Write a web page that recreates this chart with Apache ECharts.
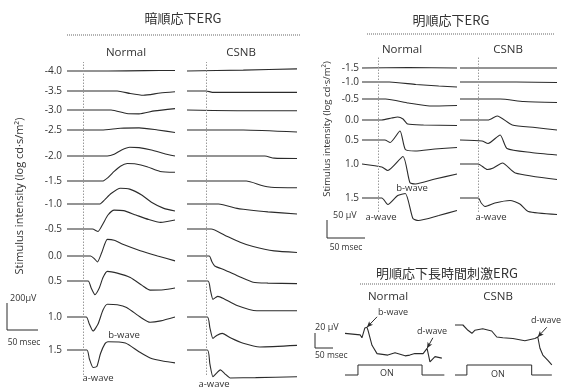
<!DOCTYPE html>
<html><head><meta charset="utf-8">
<script src="https://cdn.jsdelivr.net/npm/echarts@6/dist/echarts.min.js"></script>
<style>html,body{margin:0;padding:0;background:#fff}#c{width:562px;height:387px}</style>
</head><body><div id="c"></div>
<script>
// ================= DATA =================
// stimulus intensities (log cd·s/m²)
const darkIntensities = ['-4.0','-3.5','-3.0','-2.5','-2.0','-1.5','-1.0','-0.5','0.0','0.5','1.0','1.5'];
const lightIntensities = ['-1.5','-1.0','-0.5','0.0','0.5','1.0','1.5'];

// dark-adapted ERG, Normal: each trace = [time ms from flash, µV]
const darkNormal = [
  [[-26,0],[40,0],[100,2],[148,3]],
  [[-26,0],[55,0],[76,-15],[97,-25],[124,-12],[148,-5]],
  [[-26,0],[45,0],[70,-20],[90,-22],[115,-5],[148,8]],
  [[-26,0],[30,0],[60,10],[90,12],[120,0],[148,-14]],
  [[-26,0],[39,0],[50,10],[62,35],[75,50],[90,48],[110,35],[130,15],[148,0]],
  [[-26,0],[31,0],[40,20],[50,55],[60,85],[71,100],[85,98],[103,82],[124,55],[148,50]],
  [[-26,0],[27,0],[35,25],[45,60],[60,90],[75,85],[95,50],[110,10],[130,-25],[148,-40]],
  [[-26,0],[15,0],[24,-14],[32,30],[40,80],[50,108],[65,105],[85,80],[105,55],[125,38],[148,52]],
  [[-26,0],[12,0],[18,-15],[23,-34],[30,20],[39,95],[50,90],[65,65],[92,30],[120,0],[148,-28]],
  [[-26,0],[8,0],[13,-40],[19,-78],[26,-40],[32,20],[39,55],[55,45],[76,20],[95,-25],[108,-52],[130,-50],[148,-40]],
  [[-26,0],[5,0],[10,-40],[16,-80],[24,-40],[32,40],[39,73],[55,70],[70,55],[92,0],[108,-30],[125,-22],[148,0]],
  [[-26,0],[6,0],[10,-50],[16,-100],[22,-95],[28,-20],[35,35],[40,47],[68,40],[90,-10],[108,-46],[130,-65],[148,-74]]
];
// dark-adapted ERG, CSNB
const darkCSNB = [
  [[-31,0],[60,5],[147,12]],
  [[-31,0],[0,0],[10,-8],[147,-8]],
  [[-31,0],[50,-4],[147,-4]],
  [[-31,0],[60,0],[147,-12]],
  [[-31,0],[95,0],[110,-12],[147,-14]],
  [[-31,0],[65,0],[90,-25],[105,-35],[147,-38]],
  [[-31,0],[20,0],[50,-25],[60,-30],[100,-45],[147,-57]],
  [[-31,0],[8,0],[30,-35],[55,-75],[76,-100],[110,-125],[147,-134]],
  [[-31,0],[5,0],[9,-30],[14,-57],[30,-80],[55,-120],[76,-150],[100,-155],[147,-158]],
  [[-31,0],[3,0],[7,-55],[11,-105],[15,-95],[19,-88],[28,-100],[50,-140],[82,-170],[147,-170]],
  [[-31,0],[2,0],[6,-60],[11,-122],[17,-105],[26,-93],[40,-120],[60,-150],[87,-171],[147,-162]],
  [[-31,0],[2,0],[6,-80],[11,-153],[16,-135],[23,-114],[30,-135],[39,-160],[80,-158],[147,-153]]
];
// light-adapted ERG, Normal
const lightNormal = [
  [[-21,0],[40,1],[104,0]],
  [[-21,0],[15,0],[50,-5],[80,-8],[104,-10]],
  [[-21,0],[10,0],[40,-8],[68,-14],[104,-13]],
  [[-21,0],[5,0],[18,4],[26,6],[33,2],[39,-8],[60,-10],[104,-11]],
  [[-21,0],[9,0],[16,-5],[29,18],[36,-19],[49,-22],[75,-18],[104,-15]],
  [[-21,0],[5,-6],[13,-13],[33,15],[42,-37],[49,-40],[75,-30],[104,-20]],
  [[-21,0],[5,0],[13,-13],[26,5],[36,9],[46,-41],[53,-45],[80,-35],[104,-25]]
];
// light-adapted ERG, CSNB
const lightCSNB = [
  [[-24,0],[104,0]],
  [[-24,0],[50,0],[104,-1]],
  [[-24,0],[29,0],[60,-5],[104,-7]],
  [[-24,0],[13,0],[25,8],[45,-10],[75,-15],[104,-20]],
  [[-24,0],[5,-2],[13,-7],[29,10],[38,-17],[70,-25],[104,-30]],
  [[-24,0],[0,0],[12,-11],[20,-8],[32,2],[49,-18],[104,-31]],
  [[-24,0],[0,0],[4,-10],[9,-17],[22,-10],[42,-5],[55,-12],[66,-27],[104,-33]]
];
// long-duration stimulus ERG (light-adapted)
const longNormal = [[-36,0],[6,-2],[11,-6],[19,7],[25,8],[28,4],[39,-16],[53,-27],[83,-29],[103,-26],[117,-28],[131,-30],[144,-29],[158,-27],[181,-27],[192,-20],[200,-38],[214,-31],[233,-33]];
const longCSNB = [[-33,0],[-11,0],[3,-7],[14,-11],[22,-7],[44,-5],[69,-8],[83,-16],[100,-17],[128,-18],[161,-21],[189,-18],[197,-16],[203,-31],[211,-40],[225,-47],[236,-53]];
// stimulus ON/OFF (0 = off, 1 = on)
const longStimNormal = [[-36,0],[0,0],[0,1],[178,1],[178,0],[240,0]];
const longStimCSNB = [[-33,0],[0,0],[0,1],[180,1],[180,0],[236,0]];

// ================= LAYOUT =================
const DARK_OFFSETS = [0,-114,-223,-337,-486,-629,-760,-903,-1057,-1200,-1406,-1594]; // µV trace stacking
const LIGHT_OFFSETS = [0,-28,-62,-104,-144,-192,-260];
const FONT = '"Open Sans", "Noto Sans", sans-serif';
const JFONT = '"Noto Sans CJK JP", sans-serif';
const INK = '#2b2b2b';

const chart = echarts.init(document.getElementById('c'), null, {renderer:'canvas'});

const grids = [
  {left:67, width:108, top:62, height:313},   // 0 dark normal
  {left:187, width:110, top:62, height:313},  // 1 dark csnb
  {left:362, width:95, top:57, height:155},   // 2 light normal
  {left:460, width:97, top:57, height:155},   // 3 light csnb
  {left:345, width:100, top:310, height:70},  // 4 long normal
  {left:455, width:100, top:310, height:70}   // 5 long csnb
];
const hx = (g, min, max) => ({gridIndex:g, type:'value', min, max, show:false});
const xAxes = [hx(0,-26,148), hx(1,-31,147), hx(2,-21,104), hx(3,-24,104), hx(4,-36,241.8), hx(5,-33,244.8)];

const labelAxis = (g, min, max, offsets, names, margin) => ({
  gridIndex:g, type:'value', min, max,
  axisLine:{show:false}, axisTick:{show:false}, splitLine:{show:false},
  axisLabel:{show:true, customValues:offsets, margin, fontSize:10, color:'#333', fontFamily:FONT,
    formatter:(v)=>{const i = offsets.indexOf(v); return i >= 0 ? names[i] : '';}}
});
const hiddenY = (g, min, max) => ({gridIndex:g, type:'value', min, max, show:false});
const yAxes = [
  labelAxis(0, 51.4, -1737.1, DARK_OFFSETS, darkIntensities, 5),
  hiddenY(1, -1737.1, 51.4),
  labelAxis(2, 22, -288, LIGHT_OFFSETS, lightIntensities, 3),
  hiddenY(3, -288, 22),
  hiddenY(4, -62.2, 31.1),
  hiddenY(5, -73.3, 20),
  hiddenY(4, -0.5, 6.5),
  hiddenY(5, -0.5, 6.5)
];
// fix min/max ordering
yAxes[0].min = -1737.1; yAxes[0].max = 51.4;
yAxes[2].min = -288; yAxes[2].max = 22;

const stimLine = {silent:true, symbol:'none', label:{show:false},
  lineStyle:{color:'#9a9a9a', type:[1.5,1.5], width:1}, data:[{xAxis:0}]};

const series = [];
function traceSeries(traces, offsets, g) {
  traces.forEach((tr, i) => {
    const s = {type:'line', xAxisIndex:g, yAxisIndex:g, showSymbol:false, clip:false, smooth:0.2,
      lineStyle:{color:INK, width:1.1}, silent:true,
      data: tr.map(([t, v]) => [t, v + offsets[i]])};
    if (i === 0) s.markLine = stimLine;
    series.push(s);
  });
}
traceSeries(darkNormal, DARK_OFFSETS, 0);
traceSeries(darkCSNB, DARK_OFFSETS, 1);
traceSeries(lightNormal, LIGHT_OFFSETS, 2);
traceSeries(lightCSNB, LIGHT_OFFSETS, 3);

const arrow = (from, to) => [{coord:from}, {coord:to}];
const arrowStyle = {silent:true, symbol:['none','arrow'], symbolSize:[4,6], label:{show:false},
  lineStyle:{color:INK, type:'solid', width:1}};
series.push({type:'line', xAxisIndex:4, yAxisIndex:4, showSymbol:false, clip:false,
  lineStyle:{color:INK, width:1.1}, data:longNormal,
  markLine:Object.assign({}, arrowStyle, {data:[arrow([53,22], longNormal[4]), arrow([208,-6], longNormal[15])]})});
series.push({type:'line', xAxisIndex:5, yAxisIndex:5, showSymbol:false, clip:false,
  lineStyle:{color:INK, width:1.1}, data:longCSNB,
  markLine:Object.assign({}, arrowStyle, {data:[arrow([222,-3], longCSNB[12])]})});
series.push({type:'line', xAxisIndex:4, yAxisIndex:6, showSymbol:false, clip:false,
  lineStyle:{color:INK, width:1}, data:longStimNormal});
series.push({type:'line', xAxisIndex:5, yAxisIndex:7, showSymbol:false, clip:false,
  lineStyle:{color:INK, width:1}, data:longStimCSNB});

// ---- text & decoration ----
const txt = (text, x, y, size, opt={}) => ({type:'text', x, y, rotation:opt.rot||0, silent:true,
  style:{text, fill:opt.color||'#333', font:`${opt.weight||'normal'} ${size}px ${opt.font||FONT}`,
    textAlign:opt.align||'center', textVerticalAlign:'middle'}});
const ln = (x1,y1,x2,y2,dash) => ({type:'line', silent:true, shape:{x1,y1,x2,y2},
  style:{stroke: dash ? '#666' : INK, lineWidth:1, lineDash: dash ? [1,1] : null}});

const graphic = [
  // dark-adapted panel
  txt('暗順応下ERG', 183, 18, 13, {font:JFONT}),
  ln(67,35,300,35,true),
  txt('Normal', 126, 53, 11.5), txt('CSNB', 241, 53, 11.5),
  txt('Stimulus intensity (log cd·s/m²)', 20, 196, 11, {rot:Math.PI/2}),
  txt('b-wave', 124, 335, 9.5), txt('a-wave', 98, 378, 9.5), txt('a-wave', 214, 384, 9.5),
  ln(7,303,7,330), ln(7,330,38,330),
  txt('200μV', 10, 298, 9, {align:'left'}), txt('50 msec', 24, 343, 8.5),
  // light-adapted panel
  txt('明順応下ERG', 451, 20, 13, {font:JFONT}),
  ln(367,34,555,34,true),
  txt('Normal', 402, 50, 11.5), txt('CSNB', 508, 50, 11.5),
  txt('Stimulus intensity (log cd·s/m²)', 327, 129, 9.5, {rot:Math.PI/2}),
  txt('b-wave', 412, 188, 9.5), txt('a-wave', 381, 217, 9.5), txt('a-wave', 491, 217, 9.5),
  ln(327,220,327,238), ln(327,238,365,238),
  txt('50 μV', 333, 215, 9, {align:'left'}), txt('50 msec', 346, 248, 8.5),
  // long-duration panel
  txt('明順応下長時間刺激ERG', 447, 273, 13, {font:JFONT}),
  ln(360,284,555,284,true),
  txt('Normal', 388, 297, 11.5), txt('CSNB', 498, 297, 11.5),
  txt('b-wave', 393, 312, 9), txt('d-wave', 432, 331, 9), txt('d-wave', 546, 320, 9),
  txt('ON', 387, 373, 9), txt('ON', 498, 374, 9),
  ln(315,333,315,348), ln(315,348,333,348),
  txt('20 μV', 315, 327, 9, {align:'left'}), txt('50 msec', 315, 356, 8.5, {align:'left'})
];

chart.setOption({
  animation:false,
  backgroundColor:'#fff',
  grid:grids, xAxis:xAxes, yAxis:yAxes, series, graphic
});
</script>
</body></html>
